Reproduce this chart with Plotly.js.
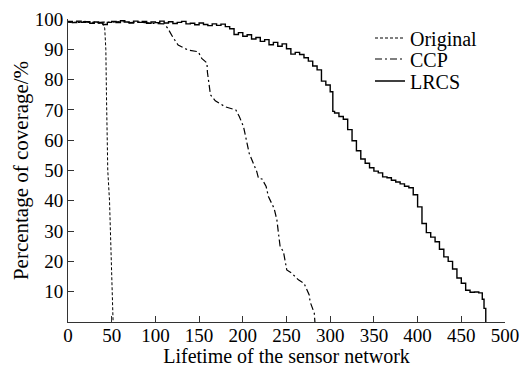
<!DOCTYPE html>
<html>
<head>
<meta charset="utf-8">
<script src="https://cdn.plot.ly/plotly-3.0.1.min.js"></script>
<style>html,body{margin:0;padding:0;background:#fff;}#chart{width:528px;height:367px;}</style>
</head>
<body>
<div id="chart"></div>
<script>
// ---- data ----
const originalX = [0,5,10,15,20,25,30,35,40,42,43.3,44,44.8,45.5,47.5,48.6,49.8,50.5,51.6];
const originalY = [99.1,98.7,99.2,98.9,99.3,98.8,99.0,98.6,98.4,97,90,75,60,50,40,30,15,8,0];

const ccpX = [0,10,20,30,40,50,60,70,80,90,100,110,114,120,126,137,149,153,159,159.5,161,163,168.5,180,192,196,200.8,204.7,207.3,212,216,218,222,226.7,229.3,235.8,239,240.8,242.7,246.5,248.4,250.3,256,263.6,270,272.4,276,277,280,281.8,282.5];
const ccpY = [99,98.8,99.1,98.7,99,98.9,99.2,98.8,99,98.7,98.5,98.4,97,94,91.4,89.8,89.2,87,85.5,82.5,78.8,75,73,71,70,67.8,64.5,59.5,55.7,52.4,49.6,47.4,47.2,44.7,41.4,37.5,33.7,29.3,24.9,23.2,20.5,17.2,16.1,13.9,12.8,11.1,8.9,6.7,4.5,2.9,0];

const lrcsX = [0,5,10,15,20,25,30,35,40,45,50,55,60,65,70,75,80,85,90,95,100,105,110,115,120,125,130,135,140,145,150,155,160,165,170,175,180,185,190,195,200,205,210,215,220,225,230,235,240,245,250,255,260,265,270,275,280,285,290,295,300,303,305,310,315,320,325,330,335,340,345,350,355,360,365,370,375,380,385,390,395,400,405,410,415,420,425,430,435,440,445,450,455,460,465,470,474,476,478];
const lrcsY = [99.2,98.8,99.3,98.9,99.1,98.6,99.0,98.7,98.2,98.9,99.2,98.8,99.4,99.0,98.7,99.3,98.9,99.2,98.6,99.0,98.8,99.3,98.7,99.1,98.5,98.9,99.2,98.4,98.6,98.1,98.7,98.2,97.8,98.4,97.9,98.3,97.5,96.8,94.9,95.5,94.3,94.8,93.4,93.9,92.6,93.2,91.5,92.3,91.0,91.8,90.2,88.4,89.0,88.3,87.2,86.1,84.5,83.2,79.5,78.2,76.0,69.5,69.0,67.8,66.9,63.5,59.8,56.5,53.8,52.4,50.9,49.8,49.2,47.9,47.6,46.8,46.2,45.6,44.8,44.3,42.0,38.0,32.5,29.5,28.0,26.5,24.0,21.5,20.0,17.5,14.5,12.8,10.5,9.8,9.9,9.6,7.5,4.5,0];

const xTicks = [0,50,100,150,200,250,300,350,400,450,500];
const yTicks = [10,20,30,40,50,60,70,80,90,100];

const seriesNames = ['Original','CCP','LRCS'];

const FONT = 'Liberation Serif, Times New Roman, serif';

const traces = [
  {x: originalX, y: originalY, name: seriesNames[0], mode: 'lines', legend: 'legend',
   line: {color: '#000', width: 1, dash: '3px,2px'}},
  {x: ccpX, y: ccpY, name: seriesNames[1], mode: 'lines', legend: 'legend2',
   line: {color: '#000', width: 1.2, dash: '7px,3px,2px,3px'}},
  {x: lrcsX, y: lrcsY, name: seriesNames[2], mode: 'lines', legend: 'legend3',
   line: {color: '#000', width: 1.4, shape: 'hv'}}
];

function leg(ypix){
  return {x: (370-68)/437, xanchor: 'left', y: (322-ypix)/303, yanchor: 'middle',
          bgcolor: 'rgba(0,0,0,0)', borderwidth: 0,
          font: {family: FONT, size: 20, color: '#000'}};
}

const layout = {
  width: 528, height: 367,
  margin: {l: 68, r: 23, t: 19, b: 45},
  paper_bgcolor: '#fff', plot_bgcolor: '#fff',
  showlegend: true,
  legend: leg(38), legend2: leg(59), legend3: leg(81),
  xaxis: {
    range: [0, 500], tickvals: xTicks, ticktext: xTicks.map(String),
    showgrid: false, zeroline: false, showline: true, linecolor: '#333', linewidth: 1,
    ticks: 'inside', ticklen: 6, tickcolor: '#333', ticklabelstandoff: -4,
    tickfont: {family: FONT, size: 19, color: '#000'},
    title: {text: 'Lifetime of the sensor network', font: {family: FONT, size: 20, color: '#000'}, standoff: 4}
  },
  yaxis: {
    range: [0, 100], tickvals: yTicks, ticktext: yTicks.map(String),
    showgrid: false, zeroline: false, showline: true, linecolor: '#333', linewidth: 1,
    ticks: 'inside', ticklen: 6, tickcolor: '#333',
    tickfont: {family: FONT, size: 19, color: '#000'},
    title: {text: 'Percentage of coverage/%', font: {family: FONT, size: 21, color: '#000'}, standoff: 0}
  }
};

Plotly.newPlot('chart', traces, layout, {displayModeBar: false, staticPlot: true});
</script>
</body>
</html>
